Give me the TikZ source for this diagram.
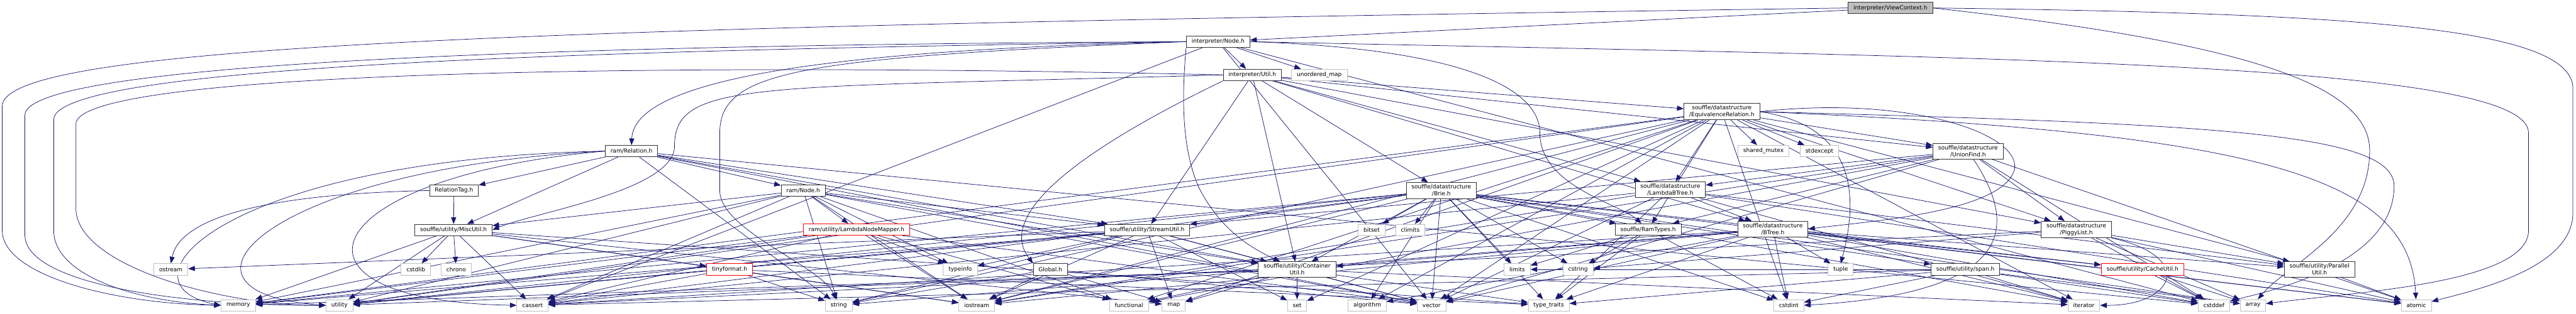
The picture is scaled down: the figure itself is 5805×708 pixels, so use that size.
\documentclass[tikz,border=0pt]{standalone}
\usepackage{fontspec}
\setmainfont{DejaVu Sans}
\usetikzlibrary{arrows.meta,backgrounds}
\definecolor{EdgeBlue}{HTML}{191970}
\definecolor{SysGray}{HTML}{BFBFBF}
\definecolor{DocGray}{HTML}{333333}
\tikzset{
  file/.style={draw=DocGray, line width=0.65pt, fill=white, inner xsep=2.4mm, inner ysep=0.9mm,
    minimum height=5.2mm, align=center, font=\fontsize{7.3}{8.9}\selectfont},
  sys/.style={file, draw=SysGray},
  trunc/.style={file, draw=red},
  cur/.style={file, fill=SysGray, draw=DocGray},
  dep/.style={draw=EdgeBlue, line width=0.6pt, -{Triangle[length=3mm,width=2.3mm]}},
}

\begin{document}
\begin{tikzpicture}[x=0.2mm, y=-0.2mm]
  \useasboundingbox (0,0) rectangle (5805,708);

  % project headers
  \node[cur] (vc) at (4260,18) {interpreter/ViewContext.h};
  \node[file] (inode) at (2745,94) {interpreter/Node.h};
  \node[file] (iutil) at (2822,169) {interpreter/Util.h};
  \node[file] (eqrel) at (3880,252) {souffle/datastructure\\/EquivalenceRelation.h};
  \node[file] (rrel) at (1423,341) {ram/Relation.h};
  \node[file] (ufind) at (4435,341) {souffle/datastructure\\/UnionFind.h};
  \node[file] (rtag) at (1023,430) {RelationTag.h};
  \node[file] (rnode) at (1810,430) {ram/Node.h};
  \node[file] (brie) at (3248,430) {souffle/datastructure\\/Brie.h};
  \node[file] (lbtree) at (3764,428) {souffle/datastructure\\/LambdaBTree.h};
  \node[file] (misc) at (1022,519) {souffle/utility/MiscUtil.h};
  \node[trunc] (lnm) at (1930,518) {ram/utility/LambdaNodeMapper.h};
  \node[file] (sutil) at (2585,519) {souffle/utility/StreamUtil.h};
  \node[file] (ramtypes) at (3714,518) {souffle/RamTypes.h};
  \node[file] (btree) at (3995,517) {souffle/datastructure\\/BTree.h};
  \node[file] (piggy) at (4679,518) {souffle/datastructure\\/PiggyList.h};
  \node[trunc] (tinyf) at (1644,608) {tinyformat.h};
  \node[file] (global) at (2367,608) {Global.h};
  \node[file] (cutil) at (2923,608) {souffle/utility/Container\\Util.h};
  \node[file] (span) at (4429,608) {souffle/utility/span.h};
  \node[trunc] (cache) at (4828,608) {souffle/utility/CacheUtil.h};
  \node[file] (par) at (5227,608) {souffle/utility/Parallel\\Util.h};

  % system headers
  \node[sys] (umap) at (2973,169) {unordered\_map};
  \node[sys] (shmtx) at (3974,341) {shared\_mutex};
  \node[sys] (stdexc) at (4100,341) {stdexcept};
  \node[sys] (bitset) at (3091,519) {bitset};
  \node[sys] (climits) at (3178,519) {climits};
  \node[sys] (ostream) at (385,608) {ostream};
  \node[sys] (cstdlib) at (937,608) {cstdlib};
  \node[sys] (chrono) at (1028,608) {chrono};
  \node[sys] (typeinfo) at (2164,608) {typeinfo};
  \node[sys] (limits) at (3419,608) {limits};
  \node[sys] (cstring) at (3556,608) {cstring};
  \node[sys] (tuple) at (4148,608) {tuple};
  \node[sys] (memory) at (537,689) {memory};
  \node[sys] (utility) at (765,689) {utility};
  \node[sys] (cassert) at (1200,689) {cassert};
  \node[sys] (string) at (1890,689) {string};
  \node[sys] (iostream) at (2201,689) {iostream};
  \node[sys] (functional) at (2544,689) {functional};
  \node[sys] (map) at (2645,689) {map};
  \node[sys] (set) at (2923,689) {set};
  \node[sys] (algorithm) at (3081,689) {algorithm};
  \node[sys] (vector) at (3226,689) {vector};
  \node[sys] (typetraits) at (3490,689) {type\_traits};
  \node[sys] (cstdint) at (4031,689) {cstdint};
  \node[sys] (iterator) at (4696,689) {iterator};
  \node[sys] (cstddef) at (4989,689) {cstddef};
  \node[sys] (array) at (5077,689) {array};
  \node[sys] (atomic) at (5445,689) {atomic};

  \begin{scope}[on background layer]
    % long routes round the outside
    \draw[dep] (vc.west) .. controls (1200,60) and (5,100) .. (5,240) -- (5,520) .. controls (5,620) and (250,685) .. (memory.west);
    \draw[dep] (inode.west) .. controls (1500,100) and (56,130) .. (56,260) -- (56,530) .. controls (56,640) and (400,690) .. (utility.west);
    \draw[dep] (inode.west) .. controls (1500,112) and (121,140) .. (121,270) -- (121,520) .. controls (121,620) and (300,680) .. (memory.west);
    \draw[dep] (iutil.west) .. controls (1500,140) and (171,160) .. (171,280) -- (171,470) .. controls (171,600) and (500,690) .. (utility.west);
    \draw[dep] (vc.east) .. controls (5300,30) and (5798,60) .. (5798,200) -- (5798,480) .. controls (5798,600) and (5600,650) .. (atomic);
    \draw[dep] (inode.east) .. controls (4500,130) and (5698,140) .. (5698,300) -- (5698,520) .. controls (5698,640) and (5300,660) .. (array);
    \draw[dep] (vc.east) .. controls (5100,100) and (5340,200) .. (5340,340) .. controls (5340,520) and (5150,600) .. (array);
    \draw[dep] (eqrel.east) .. controls (5000,280) and (5395,300) .. (5395,420) .. controls (5395,600) and (5100,660) .. (cstddef);
    \draw[dep] (eqrel.east) .. controls (5100,300) and (5430,400) .. (atomic);
    \draw[dep] (inode.west) .. controls (2000,110) and (1430,160) .. (rrel.north);
    \draw[dep] (iutil.west) .. controls (1700,200) and (1520,180) .. (1520,330) .. controls (1520,430) and (1200,480) .. (misc.east);
    \draw[dep] (inode.west) .. controls (1800,130) and (1622,160) .. (1622,300) -- (1622,430) .. controls (1622,520) and (1850,600) .. (string);
    \draw[dep] (inode.east) .. controls (3300,110) and (3470,200) .. (3470,300) .. controls (3470,420) and (3650,460) .. (ramtypes);
    \draw[dep] (inode.south west) .. controls (2660,250) and (2669,345) .. (2700,420) .. controls (2750,520) and (2820,560) .. (cutil);
    \draw[dep] (iutil.south west) .. controls (2450,330) and (2240,480) .. (global.north west);
    \draw[dep] (rtag.west) .. controls (500,440) and (400,520) .. (ostream.north);
    \draw[dep] (rrel.west) .. controls (500,360) and (250,640) .. (memory.west);
    \draw[dep] (rrel.west) .. controls (600,380) and (330,660) .. (utility.west);
    \draw[dep] (rrel.west) .. controls (700,400) and (600,680) .. (cassert.west);
    \draw[dep] (eqrel.east) .. controls (4150,280) and (4200,400) .. (tuple.north);
    \draw[dep] (eqrel.east) .. controls (4300,215) and (4550,300) .. (4540,380) .. controls (4520,480) and (4200,500) .. (btree.east);
    \draw[dep] (ufind) .. controls (4540,500) and (4560,660) .. (cstdint.east);
    \draw[dep] (piggy.south east) .. controls (4950,580) and (4900,690) .. (iterator.east);

    % direct includes
    \draw[dep] (vc) -- (inode);
    \foreach \t in {iutil,umap,cassert,vector,cstddef} \draw[dep] (inode) -- (\t);
    \foreach \t in {eqrel,ufind,piggy,btree,lbtree,brie,cutil,sutil} \draw[dep] (iutil) -- (\t);
    \foreach \t in {rtag,rnode,string,misc,cutil,sutil,vector,cstddef} \draw[dep] (rrel) -- (\t);
    \draw[dep] (rtag) -- (misc);
    \foreach \t in {lnm,misc,memory,utility,cassert,string,typeinfo,iostream,cutil,sutil,functional,vector}
      \draw[dep] (rnode) -- (\t);
    \foreach \t in {typeinfo,iostream,functional,memory,utility,cassert,vector} \draw[dep] (lnm) -- (\t);
    \foreach \t in {tinyf,chrono,cstdlib,cassert,memory,utility,iostream,map,typetraits} \draw[dep] (misc) -- (\t);
    \foreach \t in {cassert,string,iostream,typetraits} \draw[dep] (tinyf) -- (\t);
    \foreach \t in {cutil,ostream,typeinfo,iostream,map,set,string,memory,utility,vector} \draw[dep] (sutil) -- (\t);
    \foreach \t in {iostream,map,string,vector} \draw[dep] (global) -- (\t);
    \foreach \t in {set,map,functional,iterator,memory,typetraits,utility,vector} \draw[dep] (cutil) -- (\t);
    \foreach \t in {lbtree,piggy,ufind,ramtypes,par,shmtx,stdexc,iostream,map,memory,set,string,utility,vector,cstdint,functional,algorithm,iterator}
      \draw[dep] (eqrel) -- (\t);
    \foreach \t in {lbtree,piggy,ramtypes,cstddef,functional,iostream,vector,atomic,utility} \draw[dep] (ufind) -- (\t);
    \foreach \t in {btree,par,cassert,atomic,vector,typetraits,iostream,iterator} \draw[dep] (lbtree) -- (\t);
    \foreach \t in {cache,cutil,par,tuple,cstdint,iterator,algorithm,cassert,cstddef,iostream,string,typetraits,vector,atomic}
      \draw[dep] (btree) -- (\t);
    \foreach \t in {par,array,atomic,cassert,cstddef,cstring} \draw[dep] (piggy) -- (\t);
    \foreach \t in {bitset,climits,limits,cstring,ramtypes,algorithm,vector,typetraits,cutil,sutil,span,cache,array,atomic,cassert,cstdint,iterator,memory,utility,iostream}
      \draw[dep] (brie) -- (\t);
    \foreach \t in {cstdint,cstring,limits,typetraits} \draw[dep] (ramtypes) -- (\t);
    \foreach \t in {array,cassert,cstddef,cstdint,iterator,limits,typetraits} \draw[dep] (span) -- (\t);
    \foreach \t in {array,cstddef} \draw[dep] (cache) -- (\t);
    \draw[dep] (par) -- (atomic);
  \end{scope}
\end{tikzpicture}
\end{document}
